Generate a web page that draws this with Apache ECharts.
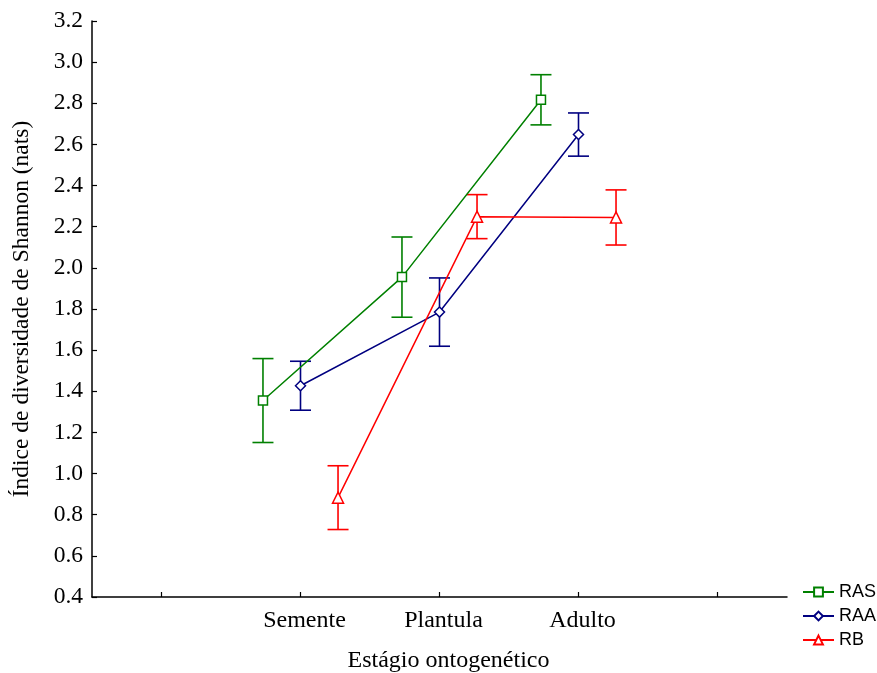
<!DOCTYPE html>
<html>
<head>
<meta charset="utf-8">
<script src="https://cdn.jsdelivr.net/npm/echarts@6/dist/echarts.min.js"></script>
<style>html,body{margin:0;padding:0;background:#fff;}#c{width:877px;height:673px;}</style>
</head>
<body>
<div id="c"></div>
<script>
var categories = ['', 'Semente', 'Plantula', 'Adulto', ''];
var stageIndex = [1, 2, 3];
var seriesNames = ['RAS', 'RAA', 'RB'];
var rasMean = [1.355, 1.955, 2.817];
var rasErr  = [0.204, 0.195, 0.122];
var raaMean = [1.427, 1.785, 2.648];
var raaErr  = [0.119, 0.166, 0.105];
var rbMean  = [0.883, 2.249, 2.245];
var rbErr   = [0.155, 0.107, 0.134];

var colors = ['#008000', '#000080', '#ff0000'];
var symbols = ['rect', 'diamond', 'triangle'];
var symbolSizes = [9, 10, 11];
var offsets = [-0.27, 0, 0.27];
var means = [rasMean, raaMean, rbMean];
var errs = [rasErr, raaErr, rbErr];
var serif = 'Liberation Serif, Times New Roman, serif';

var series = [];
seriesNames.forEach(function (name, s) {
  var lineData = stageIndex.map(function (ci, i) { return [ci + 0.5 + offsets[s], means[s][i]]; });
  var errData = stageIndex.map(function (ci, i) {
    return [ci + 0.5 + offsets[s], means[s][i] - errs[s][i], means[s][i] + errs[s][i]];
  });
  series.push({
    type: 'custom',
    name: name + '_err',
    data: errData,
    z: 2,
    silent: true,
    renderItem: function (params, api) {
      var x = api.value(0);
      var lo = api.coord([x, api.value(1)]);
      var hi = api.coord([x, api.value(2)]);
      var hw = 10.5;
      var st = { stroke: colors[s], lineWidth: 1.6 };
      return {
        type: 'group',
        children: [
          { type: 'line', shape: { x1: lo[0], y1: lo[1], x2: hi[0], y2: hi[1] }, style: st },
          { type: 'line', shape: { x1: lo[0] - hw, y1: lo[1], x2: lo[0] + hw, y2: lo[1] }, style: st },
          { type: 'line', shape: { x1: hi[0] - hw, y1: hi[1], x2: hi[0] + hw, y2: hi[1] }, style: st }
        ]
      };
    }
  });
  series.push({
    type: 'line',
    name: name,
    data: lineData,
    z: 5,
    symbol: symbols[s],
    symbolSize: symbolSizes[s],
    showAllSymbol: true,
    color: colors[s],
    lineStyle: { color: colors[s], width: 1.5 },
    itemStyle: { color: '#ffffff', borderColor: colors[s], borderWidth: 1.5 },
    emphasis: { disabled: true },
    animation: false
  });
});

var chart = echarts.init(document.getElementById('c'));
chart.setOption({
  animation: false,
  backgroundColor: '#ffffff',
  grid: { left: 92, right: 90, top: 21, bottom: 76, containLabel: false, outerBoundsMode: 'none' },
  legend: {
    data: seriesNames,
    orient: 'vertical',
    left: 797,
    top: 578,
    itemWidth: 31,
    itemHeight: 11,
    itemGap: 6,
    textStyle: { fontFamily: 'Liberation Sans, Arial', fontSize: 18, color: '#000' }
  },
  xAxis: {
    type: 'value',
    min: 0,
    max: 5,
    name: 'Estágio ontogenético',
    nameLocation: 'middle',
    nameGap: 52,
    nameTextStyle: { fontFamily: serif, fontSize: 24, color: '#000', padding: [0, 0, 0, 18] },
    axisLine: { lineStyle: { color: '#000', width: 1.5 } },
    axisTick: { inside: true, length: 5, lineStyle: { color: '#000', width: 1.2 }, customValues: [0.5, 1.5, 2.5, 3.5, 4.5] },
    axisLabel: {
      customValues: [1.5, 2.5, 3.5],
      formatter: function (v) { return categories[Math.floor(v)]; },
      fontFamily: serif, fontSize: 24, color: '#000', margin: 12, padding: [0, 0, 0, 8]
    },
    splitLine: { show: false }
  },
  yAxis: {
    type: 'value',
    min: 0.4,
    max: 3.2,
    interval: 0.2,
    name: 'Índice de diversidade de Shannon (nats)',
    nameLocation: 'middle',
    nameGap: 58,
    nameTextStyle: { fontFamily: serif, fontSize: 23.5, color: '#000' },
    axisLine: { show: true, lineStyle: { color: '#000', width: 1.5 } },
    axisTick: { show: true, inside: true, length: 5, lineStyle: { color: '#000', width: 1.2 } },
    axisLabel: {
      formatter: function (v) { return v.toFixed(1); },
      fontFamily: serif, fontSize: 23.5, color: '#000', margin: 9
    },
    splitLine: { show: false }
  },
  series: series
});
</script>
</body>
</html>
